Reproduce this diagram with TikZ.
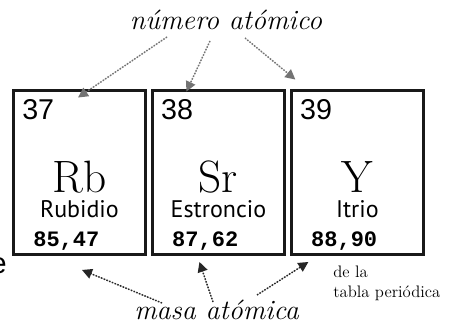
\documentclass[tikz,border=0pt]{standalone}
\usepackage{fontspec}
\newfontfamily\numfont{Liberation Sans}
\newfontfamily\namefont{PT Sans}
\newfontfamily\massfont{Liberation Mono}
\usetikzlibrary{positioning,calc,arrows.meta}

\begin{document}
\begin{tikzpicture}[x=0.75pt,y=-0.75pt]
\tikzstyle{elem}=[rectangle, draw=black!90, line width=2.2pt, minimum width=99pt, minimum height=123pt, inner sep=0pt]
\tikzstyle{znum}=[anchor=base west, inner sep=0pt, font=\numfont\fontsize{21.5}{21.5}\selectfont]
\tikzstyle{symb}=[anchor=base, inner sep=0pt, font=\fontsize{34}{34}\selectfont]
\tikzstyle{ename}=[anchor=base, inner sep=0pt, font=\namefont\fontsize{18}{18}\selectfont]
\tikzstyle{mass}=[anchor=base west, inner sep=0pt, font=\massfont\bfseries\fontsize{16.5}{16.5}\selectfont]
\tikzstyle{lbl}=[anchor=base, inner sep=0pt, font=\itshape\fontsize{21}{21}\selectfont]
\tikzstyle{numarrow}=[-{Triangle[length=7.5pt,width=7.5pt]}, draw=black!55, fill=black!55, line width=1.1pt, dash pattern=on 1.1pt off 1.1pt]
\tikzstyle{massarrow}=[-{Triangle[length=7.5pt,width=7.5pt]}, draw=black!85, fill=black, line width=1.1pt, dash pattern=on 1.1pt off 1.1pt]
\useasboundingbox (0,0) rectangle (449,327);
% 1. Boxes
%%%%%%%%%%
\node[elem] (rb) at (79.5,172.5) {};
\node[elem] (sr) [right=3pt of rb] {};
\node[elem] (y) [right=3pt of sr] {};

\node[znum] (rbz) at ($(rb.north west)+(10,30.5)$) {37};
\node[znum] (srz) at ($(sr.north west)+(10,30.5)$) {38};
\node[znum] (yz) at ($(y.north west)+(10,30.5)$) {39};

\node[symb] (rbs) at ($(rb.center)+(0,20.5)$) {Rb};
\node[symb] (srs) at ($(sr.center)+(0,20.5)$) {Sr};
\node[symb] (ys) at ($(y.center)+(0,20.5)$) {Y};

\node[ename] (rbn) at ($(rb.center)+(0,45)$) {Rubidio};
\node[ename] (srn) at ($(sr.center)+(0,45)$) {Estroncio};
\node[ename] (yn) at ($(y.center)+(0,45)$) {Itrio};

\node[mass] (rbm) at ($(rb.north west)+(21,157.5)$) {85,47};
\node[mass] (srm) at ($(sr.north west)+(21,157.5)$) {87,62};
\node[mass] (ym) at ($(y.north west)+(21,157.5)$) {88,90};

% 2. Labels
%%%%%%%%%%
\node[lbl] (num) at (226,30) {número atómico};
\node[lbl] (masa) at (216.5,320) {masa atómica};
\node[anchor=base west, inner sep=0pt, align=left, font=\fontsize{12.5}{15}\selectfont] (src) at (333,297) {de la\\tabla periódica};
\node[anchor=base east, inner sep=0pt, font=\numfont\fontsize{22}{22}\selectfont] (frag) at (7,273) {e};

% 3. Arrows
%%%%%%%%%%%
\draw[numarrow] ($(num.base)+(-59,7)$) -- ($(rb.north)+(-1.5,8.5)$);
\draw[numarrow] ($(num.base)+(-16,11)$) -- ($(sr.north)+(-32,2.5)$);
\draw[numarrow] ($(num.base)+(19,8)$) -- ($(y.north)+(-62,-9.5)$);

\draw[massarrow] ($(masa.base)+(-54.5,-17)$) -- ($(rb.south)+(2.5,14)$);
\draw[massarrow] ($(masa.base)+(-3.5,-18)$) -- ($(sr.south)+(-19,6)$);
\draw[massarrow] ($(masa.base)+(40.5,-25)$) -- ($(y.south)+(-49,6)$);

\end{tikzpicture}
\end{document}
